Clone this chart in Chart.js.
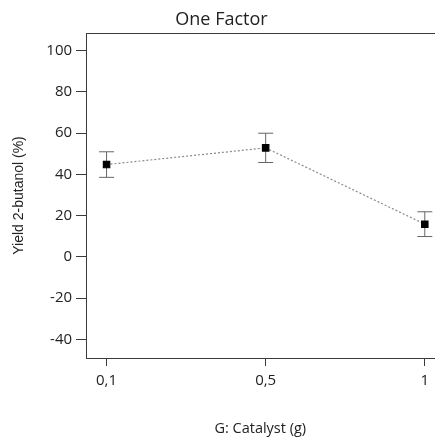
<!DOCTYPE html>
<html>
<head>
<meta charset="utf-8">
<script src="https://cdn.jsdelivr.net/npm/chart.js@4"></script>
<style>
  html, body { margin: 0; padding: 0; background: #fff; overflow: hidden; }
  canvas { display: block; }
</style>
</head>
<body>
<canvas id="chart" width="443" height="441"></canvas>
<script>
"use strict";
// catalyst levels, plotted at equal spacing
const catalystLabels = ["0,1", "0,5", "1"];
const catalystPos = [0, 1, 2];
const yieldMean = [44.8, 52.9, 15.9];
const yieldErr = [6.2, 7.1, 6.0];

const FONT = "'Open Sans', 'DejaVu Sans', sans-serif";
const AXIS = "#3a3a3a";
const TEXT = "#222";

// one small dataset per error bar: vertical line with flat caps at both ends
const errorSets = catalystPos.map((p, i) => ({
    data: [{ x: p, y: yieldMean[i] - yieldErr[i] }, { x: p, y: yieldMean[i] + yieldErr[i] }],
    borderColor: "#666",
    borderWidth: 1,
    pointStyle: "line",
    pointRadius: 7.5,
    pointBorderColor: "#666",
    pointBorderWidth: 1,
    order: 1
}));

new Chart(document.getElementById("chart"), {
    type: "line",
    data: {
        datasets: [{
            data: catalystPos.map((p, i) => ({ x: p, y: yieldMean[i] })),
            borderColor: "#8a8a8a",
            borderWidth: 1.2,
            borderDash: [2, 2],
            pointStyle: "rect",
            pointRadius: 4.5,
            pointBackgroundColor: "#000",
            pointBorderColor: "#000",
            order: 0
        }, ...errorSets]
    },
    options: {
        responsive: false,
        animation: false,
        plugins: {
            legend: { display: false },
            title: {
                display: true,
                text: "One Factor",
                color: TEXT,
                font: { family: FONT, size: 18, weight: "normal" },
                padding: { top: 9, bottom: 2.4 }
            }
        },
        scales: {
            x: {
                type: "linear",
                min: -0.129,
                max: 2.061,
                grid: { drawOnChartArea: false, tickLength: 8, color: AXIS },
                border: { display: true, color: AXIS },
                ticks: {
                    stepSize: 1,
                    includeBounds: false,
                    padding: 6,
                    color: TEXT,
                    font: { family: FONT, size: 15 },
                    callback: (v) => catalystLabels[catalystPos.indexOf(v)]
                },
                title: {
                    display: true,
                    text: "G: Catalyst (g)",
                    color: TEXT,
                    font: { family: FONT, size: 14.5 },
                    padding: { top: 24.3, bottom: 3.3 }
                }
            },
            xTop: {
                type: "linear",
                position: "top",
                min: -0.129,
                max: 2.061,
                afterFit: (s) => { s.height = 0; },
                grid: { display: false },
                ticks: { display: false },
                border: { display: true, color: AXIS }
            },
            y: {
                min: -49,
                max: 108.6,
                grid: { drawOnChartArea: false, tickLength: 10, color: AXIS },
                border: { display: true, color: AXIS },
                ticks: {
                    stepSize: 20,
                    includeBounds: false,
                    padding: 4,
                    color: TEXT,
                    font: { family: FONT, size: 15 }
                },
                title: {
                    display: true,
                    text: "Yield 2-butanol (%)",
                    color: TEXT,
                    font: { family: "'Liberation Sans', Arial, sans-serif", size: 14 },
                    padding: { top: 10.6, bottom: 14.9 }
                }
            }
        }
    }
});
</script>
</body>
</html>
